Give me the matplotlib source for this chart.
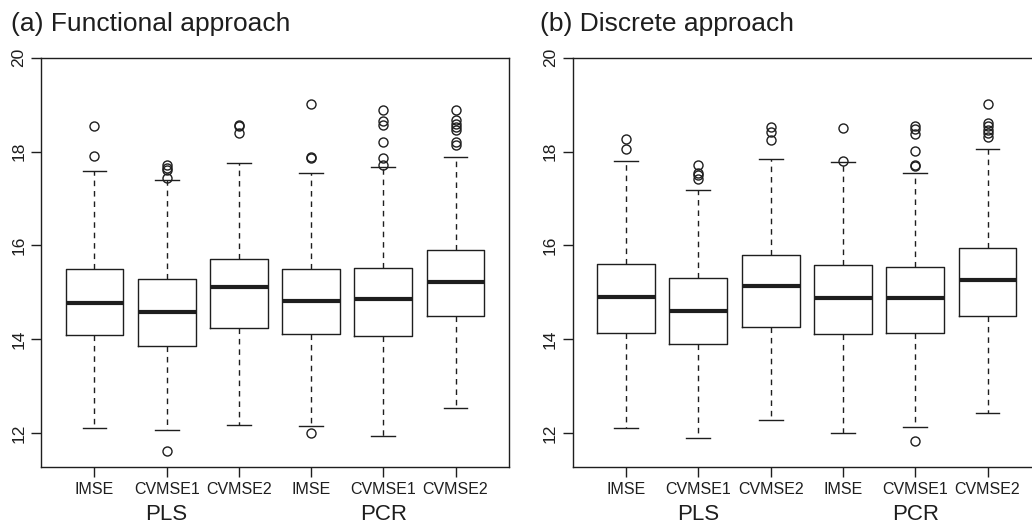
import matplotlib
matplotlib.use("Agg")
import matplotlib.pyplot as plt
import matplotlib.transforms as mtransforms

plt.rcParams['font.family'] = ['Liberation Sans', 'DejaVu Sans']

labels = ["IMSE", "CVMSE1", "CVMSE2", "IMSE", "CVMSE1", "CVMSE2"]
groups = ["PLS", "PCR"]
group_pos = [2, 5]
titles = ["(a) Functional approach", "(b) Discrete approach"]

# Panel (a): functional approach
a_q1 = [14.09, 13.86, 14.25, 14.11, 14.07, 14.50]
a_med = [14.77, 14.58, 15.12, 14.82, 14.86, 15.23]
a_q3 = [15.49, 15.28, 15.71, 15.49, 15.51, 15.91]
a_lo = [12.12, 12.06, 12.18, 12.16, 11.94, 12.54]
a_hi = [17.59, 17.40, 17.76, 17.55, 17.68, 17.89]
a_fliers = [
    [18.54, 17.90],
    [17.71, 17.65, 17.60, 17.43, 11.62],
    [18.57, 18.55, 18.40],
    [19.01, 17.88, 17.87, 12.00],
    [18.88, 18.65, 18.57, 18.20, 17.86, 17.71],
    [18.89, 18.67, 18.59, 18.52, 18.45, 18.21, 18.13],
]

# Panel (b): discrete approach
b_q1 = [14.14, 13.90, 14.26, 14.12, 14.14, 14.50]
b_med = [14.90, 14.61, 15.14, 14.88, 14.88, 15.26]
b_q3 = [15.61, 15.31, 15.79, 15.58, 15.54, 15.95]
b_lo = [12.11, 11.89, 12.28, 12.01, 12.13, 12.44]
b_hi = [17.79, 17.19, 17.84, 17.77, 17.55, 18.06]
b_fliers = [
    [18.26, 18.05],
    [17.71, 17.54, 17.50, 17.41],
    [18.52, 18.42, 18.24],
    [18.50, 17.80],
    [18.55, 18.48, 18.37, 18.01, 17.71, 17.69, 11.84],
    [19.01, 18.60, 18.54, 18.47, 18.39, 18.30],
]

panels = [
    (a_q1, a_med, a_q3, a_lo, a_hi, a_fliers),
    (b_q1, b_med, b_q3, b_lo, b_hi, b_fliers),
]

W, H = 1032, 529
fig = plt.figure(figsize=(W / 100, H / 100), dpi=100)

ax_rects = [
    (41 / W, 62 / H, 468 / W, 409.3 / H),
    (572.6 / W, 62 / H, 468.4 / W, 409.3 / H),
]
title_x = [11 / W, 540 / W]

linecol = "#1e1e1e"
for i, (q1, med, q3, lo, hi, fl) in enumerate(panels):
    ax = fig.add_axes(ax_rects[i])
    stats = []
    for j in range(len(labels)):
        stats.append(dict(q1=q1[j], med=med[j], q3=q3[j], whislo=lo[j],
                          whishi=hi[j], fliers=fl[j], label=labels[j]))
    ax.bxp(stats, positions=range(1, 7), widths=0.8, capwidths=0.33,
           showfliers=True,
           boxprops=dict(color=linecol, linewidth=1.0),
           medianprops=dict(color=linecol, linewidth=3.0, solid_capstyle='butt'),
           whiskerprops=dict(color=linecol, linewidth=1.0, linestyle=(0, (4, 3.5))),
           capprops=dict(color=linecol, linewidth=1.0),
           flierprops=dict(marker='o', markerfacecolor='none',
                           markeredgecolor=linecol, markersize=6.5,
                           markeredgewidth=1.0, linestyle='none'))
    ax.set_xlim(0.26, 6.74)
    ax.set_ylim(11.28, 20.0)
    ax.set_yticks([12, 14, 16, 18, 20])
    ax.set_yticklabels(["12", "14", "16", "18", "20"], rotation=90, va='center')
    ax.set_xticks(range(1, 7))
    ax.set_xticklabels(labels)
    ax.tick_params(axis='y', direction='out', length=7.5, width=1.0,
                   labelsize=12.5, pad=3, colors=linecol)
    ax.tick_params(axis='x', direction='out', length=7.0, width=1.0,
                   labelsize=11.5, pad=4, colors=linecol)
    for s in ax.spines.values():
        s.set_color(linecol)
        s.set_linewidth(1.0)
    trans = mtransforms.blended_transform_factory(ax.transData, ax.transAxes)
    for g, p in zip(groups, group_pos):
        ax.text(p, -0.117, g, transform=trans, ha='center', va='center',
                fontsize=16, color=linecol)
    fig.text(title_x[i], 1 - 31 / H, titles[i], ha='left', va='baseline',
             fontsize=19, color=linecol)

fig.savefig("out.png", dpi=100)
